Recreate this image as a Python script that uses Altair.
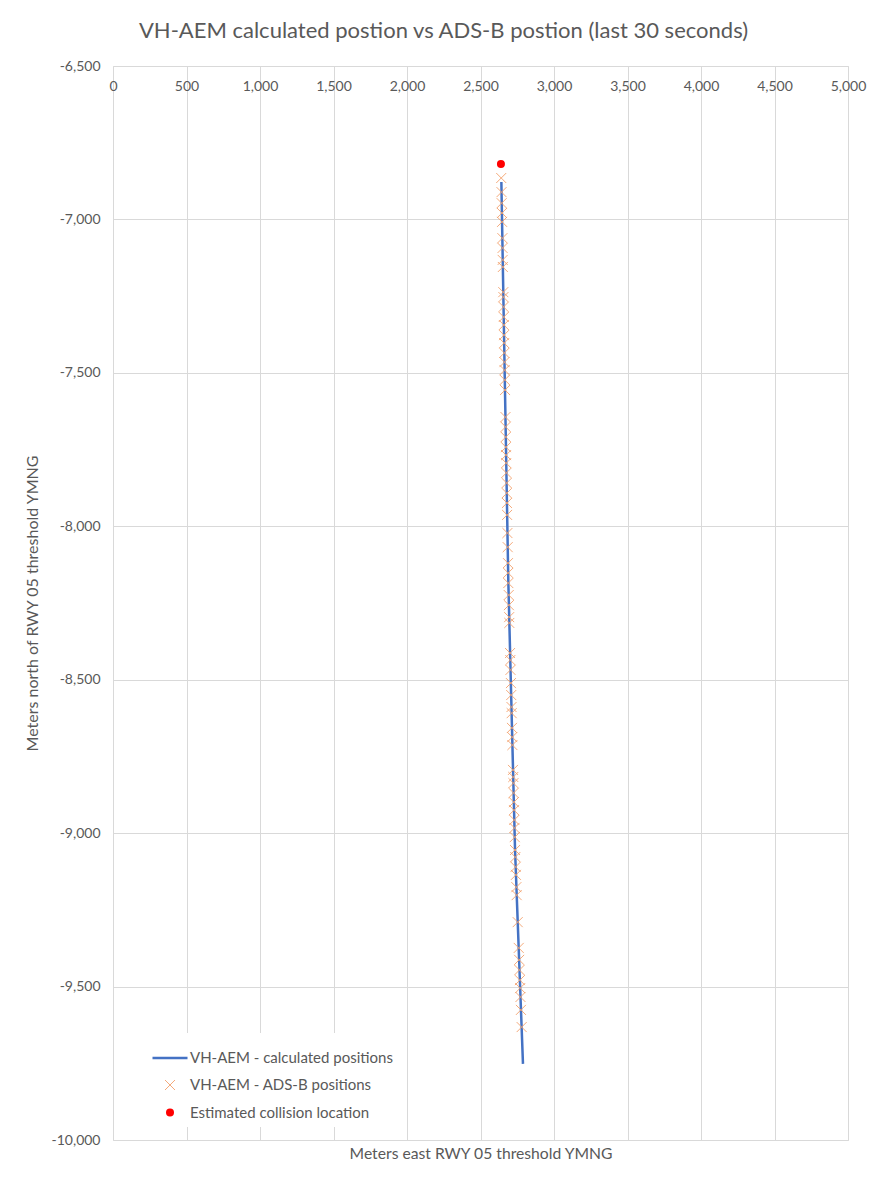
import altair as alt
import pandas as pd

# ---- data ----
calc_east = [2642, 2689, 2735, 2789]
calc_north = [-6878, -8175, -9055, -9752]

adsb_east = [2641, 2643, 2644, 2646, 2647, 2649, 2650, 2651, 2652, 2655,
             2656, 2657, 2658, 2659, 2660, 2661, 2662, 2663, 2664, 2665,
             2667, 2670, 2671, 2672, 2673, 2674, 2675, 2676, 2678, 2679,
             2680, 2681, 2683, 2685, 2687, 2688, 2689, 2692, 2693, 2695,
             2696, 2701, 2703, 2704, 2707, 2709, 2711, 2712, 2714, 2716,
             2717, 2721, 2723, 2724, 2725, 2727, 2728, 2730, 2731, 2733,
             2735, 2737, 2739, 2741, 2744, 2746, 2753, 2760, 2763, 2765,
             2768, 2770, 2772, 2775, 2780]
adsb_north = [-6865, -6911, -6947, -6979, -7008, -7061, -7093, -7132, -7155, -7237,
              -7253, -7285, -7318, -7344, -7377, -7403, -7435, -7465, -7491, -7523,
              -7556, -7644, -7676, -7709, -7742, -7768, -7794, -7826, -7859, -7892,
              -7924, -7963, -8022, -8068, -8120, -8152, -8185, -8224, -8257, -8296,
              -8315, -8413, -8436, -8468, -8511, -8550, -8589, -8609, -8657, -8687,
              -8713, -8794, -8817, -8837, -8869, -8899, -8925, -8957, -8983, -9013,
              -9055, -9078, -9110, -9136, -9176, -9202, -9290, -9374, -9413, -9446,
              -9479, -9505, -9534, -9576, -9632]

collision_east = [2639]
collision_north = [-6819]

series_names = ["VH-AEM - calculated positions",
                "VH-AEM - ADS-B positions",
                "Estimated collision location"]
x_ticks = [0, 500, 1000, 1500, 2000, 2500, 3000, 3500, 4000, 4500, 5000]
y_ticks = [-10000, -9500, -9000, -8500, -8000, -7500, -7000, -6500]

# ---- tables ----
line_df = pd.DataFrame({"east": calc_east, "north": calc_north})
pts_df = pd.DataFrame({
    "east": adsb_east + collision_east,
    "north": adsb_north + collision_north,
    "series": [series_names[1]] * len(adsb_east) + [series_names[2]] * len(collision_east),
})

W, H = 735, 1074
FONT = "Lato"
GREY = "#595959"
GRID = "#d9d9d9"
XPATH = "M-1,-1L1,1M-1,1L1,-1"
HYPHEN_LABEL = "replace(format(datum.value, ',.0f'), '\u2212', '-')"

xscale = alt.Scale(domain=[0, 5000], nice=False, zero=False)
yscale = alt.Scale(domain=[-10000, -6500], nice=False, zero=False)

line = alt.Chart(line_df).mark_line(color="#4472C4", strokeWidth=2.5).encode(
    x=alt.X("east:Q", scale=xscale,
            axis=alt.Axis(orient="bottom", offset=-H, values=x_ticks, format=",.0f",
                          title=None, domain=False, ticks=False, grid=True,
                          gridColor=GRID, labelFlush=False, labelOverlap=False,
                          labelPadding=13, labelFont=FONT, labelFontSize=14,
                          labelColor=GREY)),
    y=alt.Y("north:Q", scale=yscale,
            axis=alt.Axis(values=y_ticks, labelExpr=HYPHEN_LABEL, domain=False, ticks=False,
                          grid=True, gridColor=GRID, labelFlush=False,
                          labelOverlap=False, labelPadding=13, labelFont=FONT,
                          labelFontSize=14, labelColor=GREY,
                          title="Meters north of RWY 05 threshold YMNG",
                          titleFont=FONT, titleFontSize=16, titleFontWeight="normal",
                          titleColor=GREY, titlePadding=11)),
    order=alt.Order("north:Q", sort="descending"),
)

dom = series_names
points = alt.Chart(pts_df).mark_point(opacity=1).encode(
    x=alt.X("east:Q", scale=xscale,
            axis=alt.Axis(orient="bottom", title="Meters east RWY 05 threshold YMNG",
                          labels=False, ticks=False, domain=False, grid=False,
                          titleFont=FONT, titleFontSize=15.7, titleFontWeight="normal",
                          titleColor=GREY, titlePadding=6)),
    y=alt.Y("north:Q", scale=yscale),
    shape=alt.Shape("series:N",
                    scale=alt.Scale(domain=dom, range=["stroke", XPATH, "circle"]),
                    legend=alt.Legend(title=None, orient="none", legendX=32, legendY=967,
                                      fillColor="white", padding=6, rowPadding=11.5,
                                      labelFont=FONT, labelFontSize=15, labelColor=GREY,
                                      labelOffset=1, labelLimit=400, symbolOpacity=1)),
    stroke=alt.Stroke("series:N",
                      scale=alt.Scale(domain=dom, range=["#4472C4", "#F3A06C", "#FF0000"]),
                      legend=alt.Legend(title=None)),
    fill=alt.Fill("series:N",
                  scale=alt.Scale(domain=dom, range=["transparent", "transparent", "#FF0000"]),
                  legend=alt.Legend(title=None)),
    size=alt.Size("series:N",
                  scale=alt.Scale(type="ordinal", domain=dom, range=[1225, 100, 64]),
                  legend=alt.Legend(title=None)),
    strokeWidth=alt.StrokeWidth("series:N",
                                scale=alt.Scale(type="ordinal", domain=dom, range=[2.5, 0.9, 0]),
                                legend=alt.Legend(title=None)),
)

chart = alt.layer(line, points).resolve_axis(x="independent").properties(
    width=W, height=H,
    autosize=alt.AutoSizeParams(type="none"),
    padding={"left": 105, "top": 58, "right": 30, "bottom": 40},
    title=alt.Title("VH-AEM calculated postion vs ADS-B postion (last 30 seconds)",
                    font=FONT, fontSize=22, fontWeight="normal", color=GREY,
                    anchor="middle", offset=16, dx=-37),
).configure_view(stroke=None).configure(background="white")

chart.save("out.html", embed_options={"renderer": "svg", "actions": False})
